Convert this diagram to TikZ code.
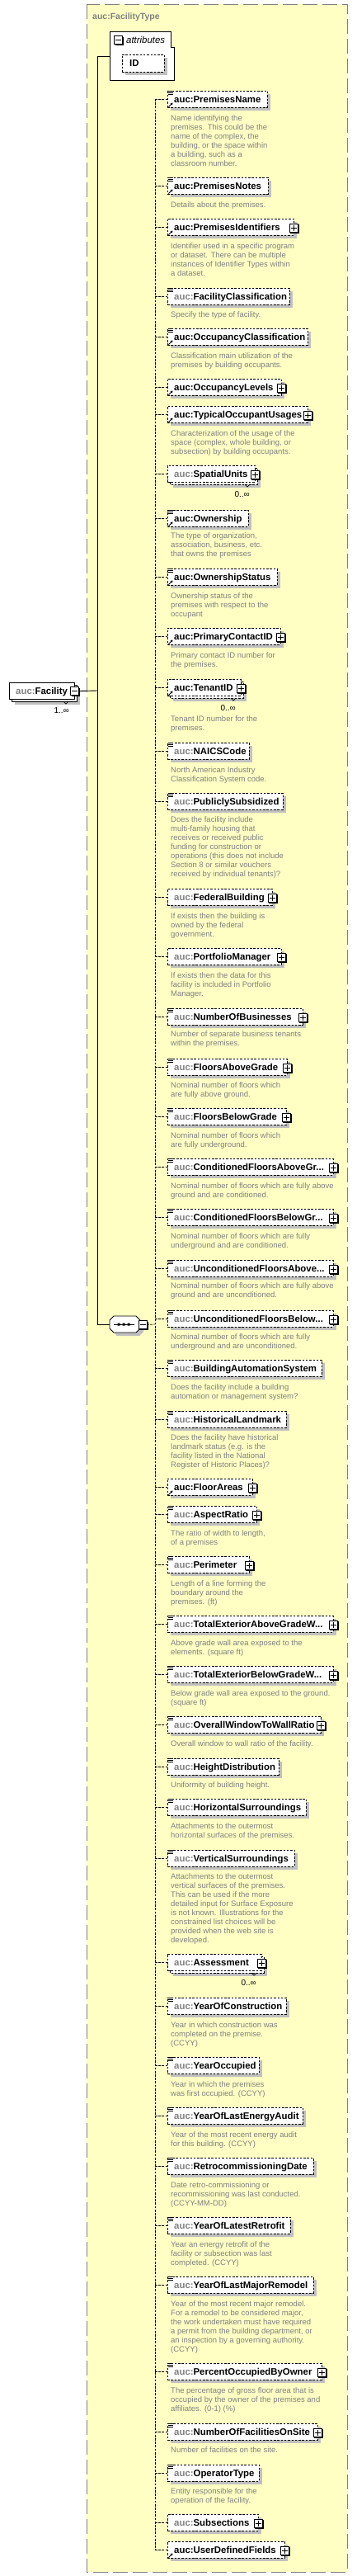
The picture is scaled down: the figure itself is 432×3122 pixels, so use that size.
\documentclass[tikz,border=0pt]{standalone}
\usepackage{fontspec}
\setmainfont{Liberation Sans}
\usetikzlibrary{arrows.meta}
\definecolor{bgy}{RGB}{255,255,196}
\definecolor{frm}{RGB}{128,128,128}
\definecolor{dsc}{RGB}{128,128,128}
\definecolor{shd}{RGB}{192,192,192}
\definecolor{pfx}{RGB}{128,128,128}
\tikzset{
 elbox/.style={draw=black, fill=white, line width=0.8pt, dash pattern=on 2.5pt off 1.8pt, inner sep=0pt, outer sep=0pt, minimum height=20pt, anchor=west},
 backbox/.style={draw=black, fill=white, line width=0.8pt, dash pattern=on 2.5pt off 1.8pt},
 nametxt/.style={anchor=base west, inner sep=0pt, font=\fontsize{11.4}{13}\selectfont\bfseries},
 desctxt/.style={anchor=north west, inner sep=0pt, align=left, text=dsc, font=\fontsize{9.5}{11}\selectfont, execute at begin node={\rule{0pt}{7pt}}},
 conn/.style={line width=0.8pt, dash pattern=on 2.7pt off 1.5pt},
 solidconn/.style={line width=0.9pt},
 plusb/.style={draw=black, fill=white, line width=1pt, minimum size=10pt, inner sep=0pt, outer sep=0pt},
 multxt/.style={anchor=base east, inner sep=0pt, font=\fontsize{10}{12}\selectfont},
}
\newcommand\gpfx{\textcolor{pfx}{auc:}}
\newcommand\xElCore[4]{%
  \node[elbox, minimum width={(#3-203)*1pt}] (#1) at (203,#2) {};
  \node[nametxt] (#1-t) at (211,#2+4) {#4};
  \coordinate (s-#1) at (188,#2);
  \draw[conn] (s-#1) -- (#1.west);
}
\newcommand\xEl[4]{%
  \gdef\xcid{#1}\gdef\xcy{#2}\gdef\xrx{#3}%
  \fill[shd] (207,#2-6) rectangle (#3+4,#2+14);
  \xElCore{#1}{#2}{#3}{#4}%
}
\newcommand\xElM[4]{%
  \gdef\xcid{#1}\gdef\xcy{#2}\gdef\xrx{#3}%
  \fill[shd] (210,#2-3) rectangle (#3+7,#2+17);
  \draw[backbox] (206,#2-7) rectangle (#3+3,#2+13);
  \xElCore{#1}{#2}{#3}{#4}%
  \draw[line width=0.7pt] (#3-12,#2+13) -- (#3-9,#2+16) -- (#3-6,#2+13);
  \node[multxt] (#1-m) at (#3-6,#2+28) {0..∞};
}
\newcommand\xDoc{\draw[line width=0.8pt] (204,\xcy-9.5) -- (209.5,\xcy-9.5) (204,\xcy-7.5) -- (209.5,\xcy-7.5) (204,\xcy-5.5) -- (209.5,\xcy-5.5);}
\newcommand\xRef{\draw[line width=0.9pt,-{Triangle[length=2.5pt,width=3pt]}] (204.5,\xcy+9.5) -- (209.5,\xcy+4.5);}
\newcommand\xPlus{%
  \fill (\xrx-4.5,\xcy-3.5) rectangle (\xrx+6.5,\xcy+7.5);
  \node[plusb] (\xcid-p) at (\xrx,\xcy+1) {};
  \draw[line width=0.9pt] (\xrx-3.5,\xcy+1) -- (\xrx+3.5,\xcy+1) (\xrx,\xcy-2.5) -- (\xrx,\xcy+4.5);
}
\newcommand\xMinusB[3]{%
  \fill (#2-4,#3-4) rectangle (#2+6.5,#3+6.5);
  \node[plusb] (#1) at (#2,#3) {};
  \draw[line width=0.9pt] (#2-3.5,#3) -- (#2+3.5,#3);
}
\newcommand\xDesc[3]{\node[desctxt] (#1-d) at (207,#2-4) {#3};}
\begin{document}
\begin{tikzpicture}[x=1pt,y=-1pt]
\useasboundingbox (0,0) rectangle (432,3122);
\fill[white] (0,0) rectangle (432,3122);
% frame
\draw[draw=frm, fill=bgy, line width=1pt, dash pattern=on 18pt off 6pt] (105,5) rectangle (421,3117);
\node[anchor=base west, inner sep=0pt, text=frm, font=\fontsize{10.5}{12}\selectfont\bfseries] (title) at (112,23) {auc:FacilityType};
% attributes
\draw[line width=0.9pt, fill=white] (133,38) -- (207,38) -- (207,57) -- (211,57) -- (211,97) -- (133,97) -- cycle;
\coordinate (attrL) at (133,68);
\xMinusB{attr-m}{143.5}{48.5}
\node[anchor=base west, inner sep=0pt, font=\fontsize{11.4}{13}\selectfont\itshape] (attr-t) at (153,52) {attributes};
\fill[shd] (152,70) rectangle (203,91);
\node[elbox, minimum width=51pt, minimum height=21pt] (id) at (148,76.5) {};
\node[nametxt] (id-t) at (157,80.5) {ID};
% facility element
\fill[shd] (18,834) rectangle (97,854);
\draw[fill=white, line width=0.8pt] (14,830) rectangle (93,850);
\node[draw, fill=white, line width=0.8pt, minimum width=79pt, minimum height=20pt, anchor=west, inner sep=0pt, outer sep=0pt] (fac) at (11,837) {};
\node[nametxt] (fac-t) at (19,841) {\gpfx Facility};
\draw[line width=0.7pt] (77,850) -- (80,853) -- (83,850);
\xMinusB{fac-m}{90.5}{837.5}
\node[multxt] (fac-mult) at (84,864) {1..∞};
% sequence
\node[inner sep=0pt, minimum width=37pt, minimum height=20pt] (seq) at (151.5,1605) {};
\fill[shd] (142,1599) -- (169,1599) -- (174,1604) -- (174,1614) -- (169,1619) -- (142,1619) -- (137,1614) -- (137,1604) -- cycle;
\draw[line width=0.9pt, fill=white] (138,1595) -- (165,1595) -- (170,1600) -- (170,1610) -- (165,1615) -- (138,1615) -- (133,1610) -- (133,1600) -- cycle;
\draw[line width=0.9pt] (138,1605) -- (163,1605);
\fill (142.5,1603.5) rectangle (145.5,1606.5) (148.5,1603.5) rectangle (151.5,1606.5) (154.5,1603.5) rectangle (157.5,1606.5);
\xMinusB{seq-m}{173}{1605.5}
\coordinate (jb) at (118,1605);
\coordinate (jt) at (118,68);
\coordinate (jf) at (118,837);
\coordinate (spinej) at (188,1605);
\draw[solidconn] (seq.west) -- (jb) -- (jt) -- (attrL);
\draw[solidconn] (fac-m.east) -- (jf);
\draw[conn] (seq-m.east) -- (spinej);
% children
\xEl{e1}{120}{324}{auc:PremisesName}\xDoc\xRef
\xDesc{e1}{143}{Name identifying the\\premises. This could be the\\name of the complex, the\\building, or the space within\\a building, such as a\\classroom number.}
\xEl{e2}{225}{325}{auc:PremisesNotes}\xDoc\xRef
\xDesc{e2}{248}{Details about the premises.}
\xEl{e3}{275}{356}{auc:PremisesIdentifiers}\xRef\xPlus
\xDesc{e3}{298}{Identifier used in a specific program\\or dataset. There can be multiple\\instances of Identifier Types within\\a dataset.}
\xEl{e4}{359}{351}{\gpfx FacilityClassification}\xDoc
\xDesc{e4}{381}{Specify the type of facility.}
\xEl{e5}{408}{373}{auc:OccupancyClassification}\xDoc\xRef
\xDesc{e5}{431}{Classification main utilization of the\\premises by building occupants.}
\xEl{e6}{469}{341}{auc:OccupancyLevels}\xRef\xPlus
\xEl{e7}{502}{373}{auc:TypicalOccupantUsages}\xRef\xPlus
\xDesc{e7}{525}{Characterization of the usage of the\\space (complex, whole building, or\\subsection) by building occupants.}
\xElM{e8}{574}{309}{\gpfx SpatialUnits}\xPlus
\xEl{e9}{628}{301}{auc:Ownership}\xDoc\xRef
\xDesc{e9}{649}{The type of organization,\\association, business, etc.\\that owns the premises}
\xEl{e10}{699}{336}{auc:OwnershipStatus}\xDoc\xRef
\xDesc{e10}{722}{Ownership status of the\\premises with respect to the\\occupant}
\xEl{e11}{771}{340}{auc:PrimaryContactID}\xRef\xPlus
\xDesc{e11}{794}{Primary contact ID number for\\the premises.}
\xElM{e12}{833}{292}{auc:TenantID}\xRef\xPlus
\xDesc{e12}{871}{Tenant ID number for the\\premises.}
\xEl{e13}{910}{302}{\gpfx NAICSCode}\xDoc
\xDesc{e13}{933}{North American Industry\\Classification System code.}
\xEl{e14}{971}{343}{\gpfx PubliclySubsidized}\xDoc
\xDesc{e14}{993}{Does the facility include\\multi-family housing that\\receives or received public\\funding for construction or\\operations (this does not include\\Section 8 or similar vouchers\\received by individual tenants)?}
\xEl{e15}{1087}{330}{\gpfx FederalBuilding}\xPlus
\xDesc{e15}{1110}{If exists then the building is\\owned by the federal\\government.}
\xEl{e16}{1159}{341}{\gpfx PortfolioManager}\xPlus
\xDesc{e16}{1182}{If exists then the data for this\\facility is included in Portfolio\\Manager.}
\xEl{e17}{1232}{367}{\gpfx NumberOfBusinesses}\xDoc\xPlus
\xDesc{e17}{1253}{Number of separate business tenants\\within the premises.}
\xEl{e18}{1293}{348}{\gpfx FloorsAboveGrade}\xDoc\xPlus
\xDesc{e18}{1315}{Nominal number of floors which\\are fully above ground.}
\xEl{e19}{1353}{347}{\gpfx FloorsBelowGrade}\xDoc\xPlus
\xDesc{e19}{1376}{Nominal number of floors which\\are fully underground.}
\xEl{e20}{1414}{404}{\gpfx ConditionedFloorsAboveGr...}\xDoc\xPlus
\xDesc{e20}{1437}{Nominal number of floors which are fully above\\ground and are conditioned.}
\xEl{e21}{1475}{404}{\gpfx ConditionedFloorsBelowGr...}\xDoc\xPlus
\xDesc{e21}{1498}{Nominal number of floors which are fully\\underground and are conditioned.}
\xEl{e22}{1537}{404}{\gpfx UnconditionedFloorsAbove...}\xDoc\xPlus
\xDesc{e22}{1558}{Nominal number of floors which are fully above\\ground and are unconditioned.}
\xEl{e23}{1598}{404}{\gpfx UnconditionedFloorsBelow...}\xDoc\xPlus
\xDesc{e23}{1620}{Nominal number of floors which are fully\\underground and are unconditioned.}
\xEl{e24}{1658}{390}{\gpfx BuildingAutomationSystem}\xDoc
\xDesc{e24}{1681}{Does the facility include a building\\automation or management system?}
\xEl{e25}{1720}{347}{\gpfx HistoricalLandmark}\xDoc
\xDesc{e25}{1742}{Does the facility have historical\\landmark status (e.g. is the\\facility listed in the National\\Register of Historic Places)?}
\xEl{e26}{1802}{306}{auc:FloorAreas}\xRef\xPlus
\xEl{e27}{1835}{311}{\gpfx AspectRatio}\xDoc\xPlus
\xDesc{e27}{1858}{The ratio of width to length,\\of a premises}
\xEl{e28}{1896}{302}{\gpfx Perimeter}\xDoc\xPlus
\xDesc{e28}{1919}{Length of a line forming the\\boundary around the\\premises. (ft)}
\xEl{e29}{1968}{404}{\gpfx TotalExteriorAboveGradeW...}\xDoc\xPlus
\xDesc{e29}{1991}{Above grade wall area exposed to the\\elements. (square ft)}
\xEl{e30}{2029}{404}{\gpfx TotalExteriorBelowGradeW...}\xDoc\xPlus
\xDesc{e30}{2052}{Below grade wall area exposed to the ground.\\(square ft)}
\xEl{e31}{2090}{389}{\gpfx OverallWindowToWallRatio}\xDoc\xPlus
\xDesc{e31}{2113}{Overall window to wall ratio of the facility.}
\xEl{e32}{2141}{338}{\gpfx HeightDistribution}\xDoc
\xDesc{e32}{2163}{Uniformity of building height.}
\xEl{e33}{2190}{371}{\gpfx HorizontalSurroundings}\xDoc
\xDesc{e33}{2213}{Attachments to the outermost\\horizontal surfaces of the premises.}
\xEl{e34}{2252}{357}{\gpfx VerticalSurroundings}\xDoc
\xDesc{e34}{2274}{Attachments to the outermost\\vertical surfaces of the premises.\\This can be used if the more\\detailed input for Surface Exposure\\is not known. Illustrations for the\\constrained list choices will be\\provided when the web site is\\developed.}
\xElM{e35}{2378}{317}{\gpfx Assessment}\xPlus
\xEl{e36}{2431}{347}{\gpfx YearOfConstruction}\xDoc
\xDesc{e36}{2454}{Year in which construction was\\completed on the premise.\\(CCYY)}
\xEl{e37}{2503}{314}{\gpfx YearOccupied}\xDoc
\xDesc{e37}{2526}{Year in which the premises\\was first occupied. (CCYY)}
\xEl{e38}{2564}{367}{\gpfx YearOfLastEnergyAudit}\xDoc
\xDesc{e38}{2587}{Year of the most recent energy audit\\for this building. (CCYY)}
\xEl{e39}{2625}{380}{\gpfx RetrocommissioningDate}\xDoc
\xDesc{e39}{2648}{Date retro-commissioning or\\recommissioning was last conducted.\\(CCYY-MM-DD)}
\xEl{e40}{2697}{352}{\gpfx YearOfLatestRetrofit}\xDoc
\xDesc{e40}{2720}{Year an energy retrofit of the\\facility or subsection was last\\completed. (CCYY)}
\xEl{e41}{2769}{380}{\gpfx YearOfLastMajorRemodel}\xDoc
\xDesc{e41}{2792}{Year of the most recent major remodel.\\For a remodel to be considered major,\\the work undertaken must have required\\a permit from the building department, or\\an inspection by a governing authority.\\(CCYY)}
\xEl{e42}{2874}{390}{\gpfx PercentOccupiedByOwner}\xDoc\xPlus
\xDesc{e42}{2897}{The percentage of gross floor area that is\\occupied by the owner of the premises and\\affiliates. (0-1) (\%)}
\xEl{e43}{2947}{385}{\gpfx NumberOfFacilitiesOnSite}\xDoc\xPlus
\xDesc{e43}{2969}{Number of facilities on the site.}
\xEl{e44}{2997}{314}{\gpfx OperatorType}\xDoc
\xDesc{e44}{3019}{Entity responsible for the\\operation of the facility.}
\xEl{e45}{3057}{313}{\gpfx Subsections}\xPlus
\xEl{e46}{3090}{345}{auc:UserDefinedFields}\xRef\xPlus
% sequence spine
\draw[conn] (s-e1) -- (s-e46);
\end{tikzpicture}
\end{document}
